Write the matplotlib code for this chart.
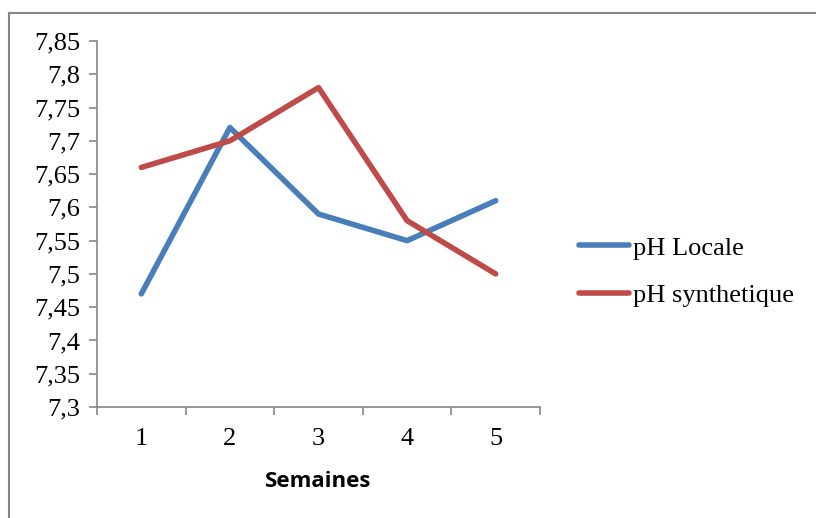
import numpy as np
import matplotlib.pyplot as plt
from matplotlib.lines import Line2D
from matplotlib.ticker import FuncFormatter, FixedLocator

weeks = [1, 2, 3, 4, 5]
ph_locale = [7.47, 7.72, 7.59, 7.55, 7.61]
ph_synth = [7.66, 7.70, 7.78, 7.58, 7.50]
yticks = np.round(np.arange(7.30, 7.851, 0.05), 2)

W, H = 816, 518
fig = plt.figure(figsize=(W / 100, H / 100), dpi=100)
ax = fig.add_axes([97 / W, 1 - 407 / H, (540 - 97) / W, (407 - 41) / H])

serif = 'Liberation Serif'
gray = '#868686'

ax.plot(weeks, ph_locale, color='#4a7ebb', lw=4, label='pH Locale', solid_capstyle='round')
ax.plot(weeks, ph_synth, color='#be4b48', lw=4, label='pH synthetique', solid_capstyle='round')

ax.set_xlim(0.5, 5.5)
ax.set_ylim(7.3, 7.85)
ax.set_yticks(yticks)
ax.yaxis.set_major_formatter(FuncFormatter(lambda v, p: f'{v:g}'.replace('.', ',')))
ax.set_xticks(weeks)
ax.xaxis.set_minor_locator(FixedLocator(np.arange(0.5, 5.6, 1)))
ax.tick_params(axis='x', which='major', length=0, pad=15)
ax.tick_params(axis='x', which='minor', length=6, color=gray, width=1.2, direction='out')
ax.tick_params(axis='y', length=6, color=gray, width=1.2, direction='out', pad=6)
for lab in ax.get_xticklabels() + ax.get_yticklabels():
    lab.set_fontfamily(serif)
    lab.set_fontsize(19)

for s in ['top', 'right']:
    ax.spines[s].set_visible(False)
for s in ['left', 'bottom']:
    ax.spines[s].set_color(gray)
    ax.spines[s].set_linewidth(1.2)

ax.set_xlabel('Semaines', fontfamily='Open Sans', fontweight='bold', fontsize=16, labelpad=15)

ax.legend(loc='center left', bbox_to_anchor=(1.035, 0.37), frameon=False,
          prop={'family': serif, 'size': 19}, handlelength=1.9, handletextpad=0.15,
          labelspacing=0.9)

# outer chart frame
fig.add_artist(Line2D([9 / W, 9 / W], [0, 1 - 12.5 / H], transform=fig.transFigure, color=gray, lw=1.5))
fig.add_artist(Line2D([9 / W, 1], [1 - 12.5 / H, 1 - 12.5 / H], transform=fig.transFigure, color=gray, lw=1.5))

fig.savefig('out.png', dpi=100)
